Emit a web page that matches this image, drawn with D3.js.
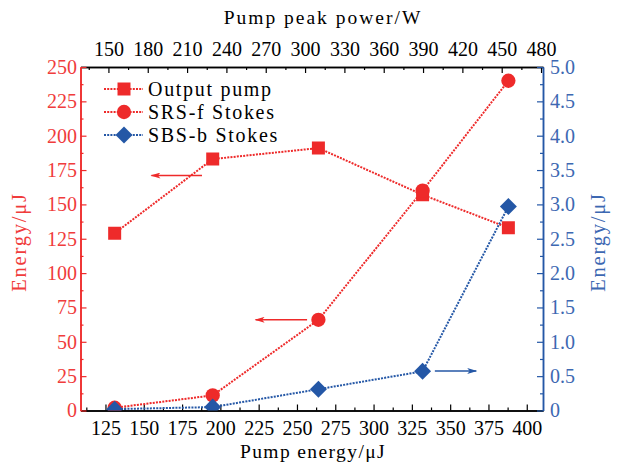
<!DOCTYPE html>
<html>
<head>
<meta charset="utf-8">
<script src="https://cdn.jsdelivr.net/npm/d3@7"></script>
<style>
  html, body { margin: 0; padding: 0; background: #fff; }
  svg { display: block; }
</style>
</head>
<body>
<svg id="chart" width="619" height="465"></svg>
<script>
// Pump energy (µJ) for each measurement
const pumpEnergy = [131, 195, 264, 332, 388];
// Energies on the left axis (µJ)
const outputPump = [129, 183, 191, 157, 133];
const srsStokes = [2, 11, 66, 160, 240];
// Energy on the right axis (µJ)
const sbsStokes = [0.02, 0.05, 0.31, 0.57, 2.97];

const bottomTicks = [125, 150, 175, 200, 225, 250, 275, 300, 325, 350, 375, 400];
const topTicks = [150, 180, 210, 240, 270, 300, 330, 360, 390, 420, 450, 480];
const leftTicks = [0, 25, 50, 75, 100, 125, 150, 175, 200, 225, 250];
const rightTicks = [0, 0.5, 1.0, 1.5, 2.0, 2.5, 3.0, 3.5, 4.0, 4.5, 5.0];

const seriesNames = ["Output pump", "SRS-f Stokes", "SBS-b Stokes"];

// Direction arrows: which axis the series belongs to, its level and x extent
const arrows = [
  {axis: "left", y: 171, x0: 188, x1: 155},
  {axis: "left", y: 66, x0: 256.6, x1: 223},
  {axis: "right", y: 0.575, x0: 340, x1: 367}
];

const RED = "#ee2a2a";
const BLUE = "#2457a6";
const RED_TXT = "#f03c3c";
const BLUE_TXT = "#3d68b2";
const FONT = "'Liberation Serif', 'Times New Roman', serif";

const svg = d3.select("#chart");
const L = 80.5, R = 543, T = 67, B = 410.5;

const x = d3.scaleLinear().domain([108.7, 410.6]).range([L, R]);
const xTop = d3.scaleLinear().domain([128.7, 481.5]).range([L, R]);
const yL = d3.scaleLinear().domain([0, 250]).range([B, T]);
const yR = d3.scaleLinear().domain([0, 5]).range([B, T]);

const FS = 20;      // tick label size
const MAJ = 6, MIN = 3;

function minorsOf(ticks) {
  const step = ticks[1] - ticks[0];
  const out = [];
  for (let i = -1; i < ticks.length; i++) out.push(ticks[0] + (i + 0.5) * step);
  return out;
}

function styleAxis(g, color, txtColor) {
  g.attr("font-family", null);
  g.select(".domain").attr("stroke", color).attr("stroke-width", 1.5);
  g.selectAll(".tick line").attr("stroke", color).attr("stroke-width", 1.2);
  g.selectAll(".tick text").attr("fill", txtColor)
    .style("font-family", FONT).style("font-size", FS + "px");
}

function label(sel, size, spacing) {
  return sel.style("font-family", FONT).style("font-size", size + "px")
    .style("letter-spacing", spacing + "px");
}

// bottom axis
const minorB = minorsOf(bottomTicks).filter(v => v > x.domain()[0] && v < x.domain()[1]);
svg.append("g").attr("transform", `translate(0,${B})`)
  .call(d3.axisBottom(x).tickValues(minorB).tickSize(-MIN).tickSizeOuter(0).tickFormat(""))
  .call(g => styleAxis(g, "#000", "#000"));
svg.append("g").attr("transform", `translate(0,${B})`)
  .call(d3.axisBottom(x).tickValues(bottomTicks).tickSize(-MAJ).tickSizeOuter(0).tickPadding(10.5).tickFormat(d3.format("d")))
  .call(g => styleAxis(g, "#000", "#000"));

// top axis
const minorT = minorsOf(topTicks).filter(v => v > xTop.domain()[0] && v < xTop.domain()[1]);
svg.append("g").attr("transform", `translate(0,${T})`)
  .call(d3.axisTop(xTop).tickValues(minorT).tickSize(-MIN).tickSizeOuter(0).tickFormat(""))
  .call(g => styleAxis(g, "#000", "#000"));
svg.append("g").attr("transform", `translate(0,${T})`)
  .call(d3.axisTop(xTop).tickValues(topTicks).tickSize(-MAJ).tickSizeOuter(0).tickPadding(11).tickFormat(d3.format("d")))
  .call(g => styleAxis(g, "#000", "#000"));

// left axis
svg.append("g").attr("transform", `translate(${L},0)`)
  .call(d3.axisLeft(yL).tickValues(minorsOf(leftTicks).filter(v => v > 0 && v < 250)).tickSize(-MIN).tickSizeOuter(0).tickFormat(""))
  .call(g => styleAxis(g, RED, RED_TXT));
svg.append("g").attr("transform", `translate(${L},0)`)
  .call(d3.axisLeft(yL).tickValues(leftTicks).tickSize(-MAJ).tickSizeOuter(0).tickPadding(3.5).tickFormat(d3.format("d")))
  .call(g => styleAxis(g, RED, RED_TXT));

// right axis
svg.append("g").attr("transform", `translate(${R},0)`)
  .call(d3.axisRight(yR).tickValues(minorsOf(rightTicks).filter(v => v > 0 && v < 5)).tickSize(-MIN).tickSizeOuter(0).tickFormat(""))
  .call(g => styleAxis(g, BLUE, BLUE_TXT));
svg.append("g").attr("transform", `translate(${R},0)`)
  .call(d3.axisRight(yR).tickValues(rightTicks).tickSize(-MAJ).tickSizeOuter(0).tickPadding(7)
    .tickFormat(d => d === 0 ? "0" : d3.format(".1f")(d)))
  .call(g => styleAxis(g, BLUE, BLUE_TXT));

// axis titles
label(svg.append("text").attr("x", 313).attr("y", 458).attr("text-anchor", "middle"), 19.5, 1.4)
  .text("Pump energy/μJ");
label(svg.append("text").attr("x", 323).attr("y", 24).attr("text-anchor", "middle"), 19.5, 2)
  .text("Pump peak power/W");
label(svg.append("text").attr("transform", "translate(26,242) rotate(-90)").attr("text-anchor", "middle")
  .attr("fill", RED_TXT), 20.5, 1.8).text("Energy/μJ");
label(svg.append("text").attr("transform", "translate(605,242) rotate(-90)").attr("text-anchor", "middle")
  .attr("fill", BLUE_TXT), 20.5, 1.8).text("Energy/μJ");

// arrowheads and plot clip
const defs = svg.append("defs");
[["ahRed", RED], ["ahBlue", BLUE]].forEach(([id, c]) => {
  defs.append("marker").attr("id", id).attr("viewBox", "0 0 10 6")
    .attr("refX", 9).attr("refY", 3).attr("markerUnits", "userSpaceOnUse")
    .attr("markerWidth", 12).attr("markerHeight", 6).attr("orient", "auto")
    .append("path").attr("d", "M0,0 L10,3 L0,6 L2.5,3 Z").attr("fill", c);
});
defs.append("clipPath").attr("id", "plotClip")
  .append("rect").attr("x", L).attr("y", T).attr("width", R - L).attr("height", B - T);

arrows.forEach(a => {
  const ys = a.axis === "left" ? yL : yR;
  svg.append("line")
    .attr("x1", x(a.x0)).attr("x2", x(a.x1))
    .attr("y1", ys(a.y)).attr("y2", ys(a.y))
    .attr("stroke", a.axis === "left" ? RED : BLUE).attr("stroke-width", 1.5)
    .attr("marker-end", `url(#${a.axis === "left" ? "ahRed" : "ahBlue"})`);
});

// series
const series = [
  {name: seriesNames[0], vals: outputPump, y: yL, color: RED, sym: d3.symbolSquare, size: 169, rot: 0},
  {name: seriesNames[1], vals: srsStokes, y: yL, color: RED, sym: d3.symbolCircle, size: 160, rot: 0},
  {name: seriesNames[2], vals: sbsStokes, y: yR, color: BLUE, sym: d3.symbolSquare, size: 144, rot: 45}
];

const plot = svg.append("g").attr("clip-path", "url(#plotClip)");
series.forEach(s => {
  const pts = pumpEnergy.map((e, i) => [x(e), s.y(s.vals[i])]);
  plot.append("path").attr("d", d3.line()(pts)).attr("fill", "none")
    .attr("stroke", s.color).attr("stroke-width", 2).attr("stroke-dasharray", "2,1.2");
});
series.forEach(s => {
  pumpEnergy.forEach((e, i) => {
    plot.append("path").attr("d", d3.symbol(s.sym, s.size)())
      .attr("transform", `translate(${x(e)},${s.y(s.vals[i])}) rotate(${s.rot})`)
      .attr("fill", s.color);
  });
});

// legend
const legend = svg.append("g");
series.forEach((s, i) => {
  const cy = 89 + i * 23;
  legend.append("line").attr("x1", 104).attr("x2", 143).attr("y1", cy).attr("y2", cy)
    .attr("stroke", s.color).attr("stroke-width", 2).attr("stroke-dasharray", "2,1.2");
  legend.append("path").attr("d", d3.symbol(s.sym, s.size)())
    .attr("transform", `translate(124,${cy}) rotate(${s.rot})`).attr("fill", s.color);
  label(legend.append("text").attr("x", 148).attr("y", cy + 6.5), 20, 1.7).text(s.name);
});
</script>
</body>
</html>
